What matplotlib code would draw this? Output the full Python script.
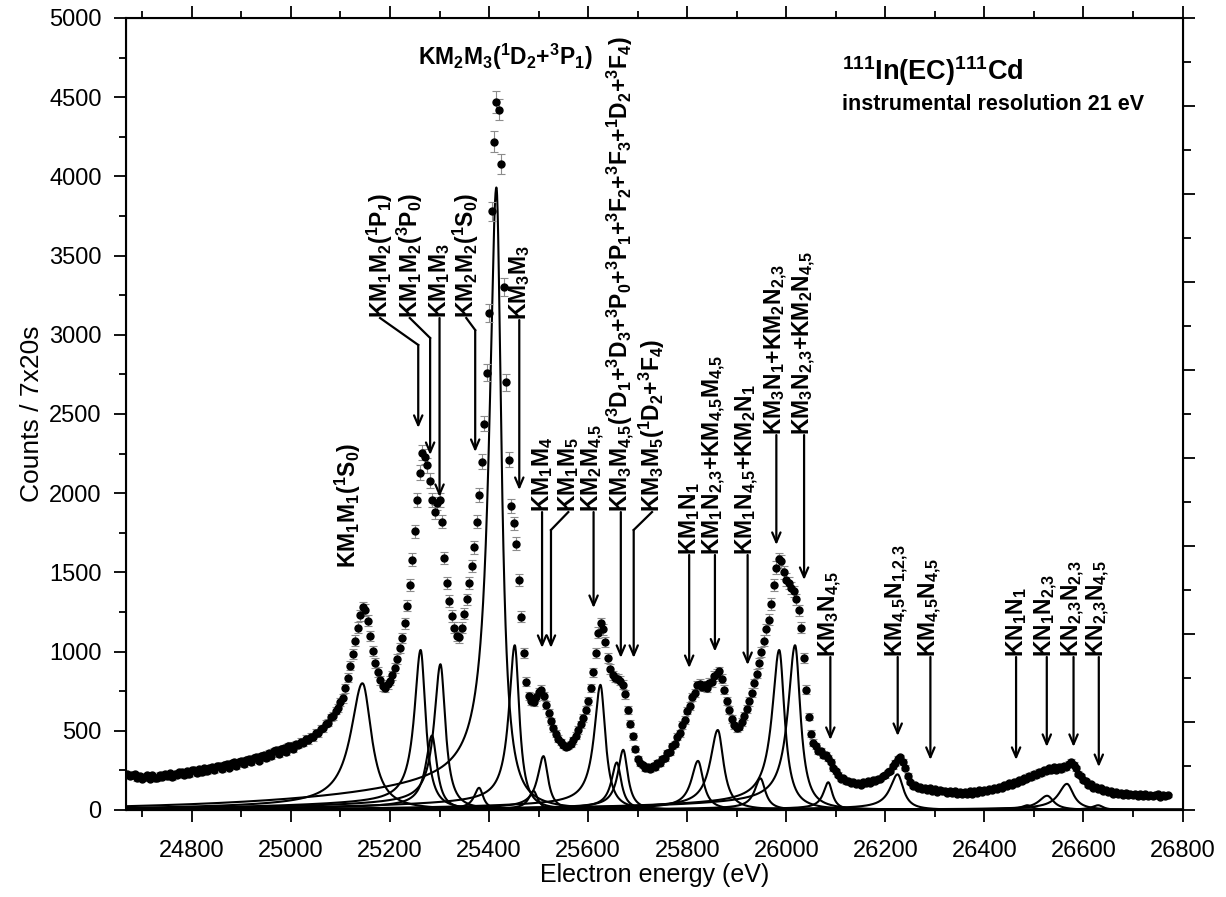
import numpy as np
import matplotlib
matplotlib.use("Agg")
import matplotlib.pyplot as plt
from matplotlib.ticker import MultipleLocator

plt.rcParams["font.family"] = "Liberation Sans"
plt.rcParams["mathtext.fontset"] = "custom"
plt.rcParams["mathtext.rm"] = "Liberation Sans:bold"
plt.rcParams["mathtext.it"] = "Liberation Sans:bold"
plt.rcParams["mathtext.bf"] = "Liberation Sans:bold"
plt.rcParams["mathtext.sf"] = "Liberation Sans:bold"

e_low = np.arange(24670, 25101, 5)
c_low = [230, 212, 218, 226, 200, 214, 196, 210, 220, 198,
         218, 204, 200, 222, 210, 228, 212, 232, 206, 230,
         218, 238, 240, 220, 246, 226, 250, 252, 232, 258,
         238, 262, 246, 266, 270, 250, 276, 280, 258, 286,
         290, 268, 296, 300, 278, 306, 310, 288, 318, 322,
         300, 330, 334, 312, 344, 350, 328, 360, 340, 370,
         376, 352, 384, 390, 368, 402, 406, 386, 418, 410,
         432, 424, 450, 440, 464, 460, 488, 486, 512, 516,
         546, 552, 584, 592, 628, 642, 684]
e_mid = np.arange(25105, 26096, 5)
c_mid = [705, 768, 835, 912, 985, 1070, 1150, 1228, 1280, 1262,
         1195, 1100, 1005, 930, 872, 818, 782, 770, 795, 815,
         850, 895, 955, 1020, 1085, 1180, 1290, 1420, 1580, 1760,
         1960, 2130, 2255, 2230, 2175, 2080, 1960, 1880, 1935, 1960,
         1820, 1590, 1430, 1320, 1225, 1150, 1100, 1090, 1150, 1240,
         1330, 1430, 1540, 1660, 1820, 1990, 2200, 2440, 2760, 3140,
         3780, 4220, 4470, 4420, 4080, 3300, 2700, 2210, 1920, 1810,
         1680, 1450, 1220, 990, 810, 720, 690, 680, 715, 745,
         760, 720, 665, 610, 560, 515, 480, 450, 430, 412,
         400, 405, 418, 440, 470, 505, 540, 580, 630, 690,
         770, 870, 990, 1120, 1180, 1140, 1060, 960, 890, 850,
         835, 830, 815, 790, 730, 630, 545, 465, 385, 325,
         295, 282, 262, 270, 258, 276, 270, 296, 298, 324,
         330, 358, 366, 402, 418, 462, 484, 536, 568, 628,
         658, 712, 738, 788, 796, 778, 786, 770, 802, 808,
         846, 858, 876, 830, 760, 690, 630, 575, 535, 515,
         525, 555, 595, 640, 685, 740, 800, 860, 930, 1000,
         1070, 1140, 1200, 1300, 1420, 1530, 1585, 1570, 1500, 1455,
         1430, 1400, 1380, 1330, 1260, 1150, 960, 760, 590, 480,
         425, 402, 372, 370, 346, 350, 330, 306, 262]
e_high = np.arange(26100, 26771, 5)
c_high = [245, 222, 198, 200, 180, 186, 170, 176, 164, 172,
          160, 174, 168, 180, 172, 190, 184, 198, 196, 214,
          218, 240, 248, 276, 296, 322, 332, 304, 266, 216,
          176, 152, 156, 140, 148, 132, 142, 126, 136, 120,
          134, 116, 126, 118, 122, 110, 120, 106, 122, 104,
          114, 104, 112, 102, 118, 104, 120, 110, 124, 114,
          128, 120, 134, 126, 140, 134, 148, 142, 158, 150,
          168, 160, 178, 172, 190, 184, 202, 196, 216, 206,
          230, 220, 242, 232, 252, 244, 262, 250, 270, 254,
          274, 258, 278, 270, 290, 302, 286, 262, 228, 214,
          188, 182, 160, 162, 142, 148, 130, 136, 120, 128,
          112, 120, 104, 114, 100, 110, 96, 106, 94, 104,
          92, 100, 90, 99, 88, 102, 90, 96, 86, 94,
          98, 84, 94, 86, 92]

energy = np.concatenate([e_low, e_mid, e_high])
counts = np.array(c_low + c_mid + c_high, dtype=float)

# fitted components: centre (eV), height (counts), low/high side half widths (eV)
comp_center = [25145, 25262, 25285, 25302, 25380, 25415, 25452, 25490, 25510,
               25625, 25658, 25671, 25822, 25862, 25948, 25986, 26018, 26085,
               26225, 26487, 26527, 26567, 26630]
comp_height = [800, 1010, 470, 920, 140, 3930, 1040, 120, 340,
               790, 300, 380, 310, 505, 200, 1010, 1040, 175,
               225, 30, 90, 165, 30]
comp_wlow = [28, 15, 15, 15, 12, 17, 14, 12, 14,
             15, 13, 13, 16, 18, 14, 17, 17, 12,
             18, 15, 20, 20, 15]
comp_whigh = [22, 12, 12, 12, 10, 12, 11, 10, 11,
              12, 11, 11, 13, 14, 12, 13, 13, 10,
              14, 12, 16, 16, 12]

# transition labels: text, arrow path (energy, counts); first point = label foot
labels = [
    (r"KM$_1$M$_1$($^1$S$_0$)", [(25115, 1528)]),
    (r"KM$_1$M$_2$($^1$P$_1$)", [(25180, 3106), (25257, 2936), (25257, 2412)]),
    (r"KM$_1$M$_2$($^3$P$_0$)", [(25240, 3106), (25281, 2980), (25281, 2241)]),
    (r"KM$_1$M$_3$", [(25300, 3106), (25300, 1976)]),
    (r"KM$_2$M$_2$($^1$S$_0$)", [(25354, 3106), (25372, 3030), (25372, 2260)]),
    (r"KM$_3$M$_3$", [(25461, 3093), (25461, 2020)]),
    (r"KM$_1$M$_4$", [(25507, 1881), (25507, 1023)]),
    (r"KM$_1$M$_5$", [(25560, 1881), (25525, 1768), (25525, 1023)]),
    (r"KM$_2$M$_{4{,}5}$", [(25611, 1881), (25611, 1275)]),
    (r"KM$_3$M$_{4{,}5}$($^3$D$_1$+$^3$D$_3$+$^3$P$_0$+$^3$P$_1$+$^3$F$_2$+$^3$F$_3$+$^1$D$_2$+$^3$F$_4$)",
     [(25666, 1881), (25666, 960)]),
    (r"KM$_3$M$_5$($^1$D$_2$+$^3$F$_4$)", [(25729, 1881), (25692, 1768), (25692, 960)]),
    (r"KM$_1$N$_1$", [(25804, 1610), (25804, 896)]),
    (r"KM$_1$N$_{2{,}3}$+KM$_{4{,}5}$M$_{4{,}5}$", [(25856, 1610), (25856, 1000)]),
    (r"KM$_1$N$_{4{,}5}$+KM$_2$N$_1$", [(25922, 1610), (25922, 915)]),
    (r"KM$_3$N$_1$+KM$_2$N$_{2{,}3}$", [(25980, 2367), (25980, 1673)]),
    (r"KM$_3$N$_{2{,}3}$+KM$_2$N$_{4{,}5}$", [(26036, 2367), (26036, 1452)]),
    (r"KM$_3$N$_{4{,}5}$", [(26089, 966), (26089, 442)]),
    (r"KM$_{4{,}5}$N$_{1{,}2{,}3}$", [(26225, 966), (26225, 467)]),
    (r"KM$_{4{,}5}$N$_{4{,}5}$", [(26291, 966), (26291, 316)]),
    (r"KN$_1$N$_1$", [(26464, 966), (26464, 316)]),
    (r"KN$_1$N$_{2{,}3}$", [(26526, 966), (26526, 398)]),
    (r"KN$_{2{,}3}$N$_{2{,}3}$", [(26580, 966), (26580, 398)]),
    (r"KN$_{2{,}3}$N$_{4{,}5}$", [(26631, 966), (26631, 271)]),
]


def component(e, x0, a, wl, wh):
    w = np.where(e < x0, wl, wh)
    lor = 1.0 / (1.0 + ((e - x0) / w) ** 2)
    tail = 0.07 * np.exp((e - x0) / 300.0) / (1.0 + np.exp((e - x0) / 8.0))
    y = lor + tail
    return a * y / y.max()


fig = plt.figure(figsize=(12.26, 8.97), dpi=100)
ax = fig.add_axes([126 / 1226, 1 - 810 / 897, 1057 / 1226, 792 / 897])

e_fine = np.linspace(24667, 26801, 4000)
for x0, a, wl, wh in zip(comp_center, comp_height, comp_wlow, comp_whigh):
    ax.plot(e_fine, component(e_fine, x0, a, wl, wh), color="black", lw=1.5, zorder=2)

ax.errorbar(energy, counts, yerr=np.sqrt(counts), fmt="o", color="black",
            ms=5, ecolor="#8c8c8c", elinewidth=0.8, capsize=3, capthick=0.8, zorder=3)

for text, path in labels:
    x0, y0 = path[0]
    ax.text(x0, y0, text, rotation=90, ha="center", va="bottom", fontsize=16.5,
            fontweight="bold", zorder=5)
    if len(path) > 1:
        xs = [p[0] for p in path]
        ys = [p[1] for p in path]
        ax.plot(xs[:-1], ys[:-1], color="black", lw=1.6, zorder=4)
        ax.annotate("", xy=path[-1], xytext=path[-2],
                    arrowprops=dict(arrowstyle="->,head_length=0.7,head_width=0.3",
                                    lw=1.6, color="black", shrinkA=0, shrinkB=0), zorder=4)

ax.text(25432, 4754, r"KM$_2$M$_3$($^1$D$_2$+$^3$P$_1$)", ha="center", va="center",
        fontsize=16.5, fontweight="bold")
ax.text(26113, 4608, r"$^{111}$In(EC)$^{111}$Cd", ha="left", va="baseline",
        fontsize=19.5, fontweight="bold")
ax.text(26113, 4419, "instrumental resolution 21 eV", ha="left", va="baseline",
        fontsize=15.5, fontweight="bold")

ax.set_xlim(24667, 26801)
ax.set_ylim(0, 5000)
ax.xaxis.set_major_locator(MultipleLocator(200))
ax.xaxis.set_minor_locator(MultipleLocator(100))
ax.yaxis.set_major_locator(MultipleLocator(500))
ax.yaxis.set_minor_locator(MultipleLocator(250))
ax.tick_params(which="both", direction="out", width=1.3, labelsize=17, top=True)
ax.tick_params(which="major", length=8.5)
ax.tick_params(which="minor", length=5)
ax.tick_params(axis="x", which="major", pad=13)
ax.tick_params(axis="y", which="major", pad=9)
for s in ax.spines.values():
    s.set_linewidth(1.5)
ax.set_xlabel("Electron energy (eV)", fontsize=18, labelpad=1)
ax.set_ylabel("Counts / 7x20s", fontsize=19, labelpad=4)

ax2 = ax.twinx()
ax2.set_ylim(0, 18)
ax2.yaxis.set_major_locator(MultipleLocator(2))
ax2.yaxis.set_minor_locator(MultipleLocator(1))
ax2.tick_params(which="both", direction="out", width=1.3, labelright=False)
ax2.tick_params(which="major", length=8.5)
ax2.tick_params(which="minor", length=6)

fig.savefig("out.png", dpi=100)
